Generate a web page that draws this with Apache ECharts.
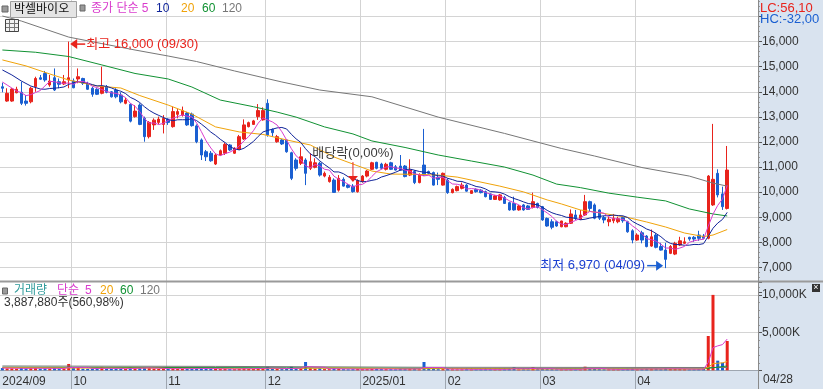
<!DOCTYPE html>
<html><head><meta charset="utf-8">
<script src="https://cdn.jsdelivr.net/npm/echarts/dist/echarts.min.js"></script>
<style>html,body{margin:0;padding:0;background:#fff;overflow:hidden}#c{width:823px;height:389px}</style>
</head><body><div id="c"></div>
<script>
// ---- trading days (categories) ----
const sepDays=[5,6,9,10,11,12,13,19,20,23,24,25,26,27,30];
const octDays=[2,4,7,8,10,11,14,15,16,17,18,21,22,23,24,25,28,29,30,31];
const novDays=[1,4,5,6,7,8,11,12,13,14,15,18,19,20,21,22,25,26,27,28,29];
const decDays=[2,3,4,5,6,9,10,11,12,13,16,17,18,19,20,23,24,26,27,30];
const janDays=[2,3,6,7,8,9,10,13,14,15,16,17,20,21,22,23,24,31];
const febDays=[3,4,5,6,7,10,11,12,13,14,17,18,19,20,21,24,25,26,27,28];
const marDays=[4,5,6,7,10,11,12,13,14,17,18,19,20,21,24,25,26,27,28,31];
const aprDays=[1,2,3,4,7,8,9,10,11,14,15,16,17,18,21,22,23,24,25,28];
const monthList=[['2024','09',sepDays,'2024/09'],['2024','10',octDays,'10'],['2024','11',novDays,'11'],['2024','12',decDays,'12'],['2025','01',janDays,'2025/01'],['2025','02',febDays,'02'],['2025','03',marDays,'03'],['2025','04',aprDays,'04']];
const emptySlots=6;

// ---- prices ----
const open=[14200,13630,13630,13960,13980,13630,13600,14200,14560,14730,14270,14560,14400,14310,14470,14430,14510,14530,14340,14140,14100,13940,14200,14000,14070,13870,13540,13500,13010,13470,12940,12210,12680,12780,12700,12910,12610,13100,13070,13150,
13110,12640,12080,11610,11550,11120,11480,11550,11880,11550,11700,12120,12610,12700,13010,12880,13540,12500,12010,12080,12080,11570,11280,11150,11280,10950,10990,11150,10640,10420,10480,10080,10510,10280,10240,10020,10420,10640,10910,11190,
11120,10910,11170,11010,11040,11040,10680,10820,10380,11080,10820,10780,10590,10280,10480,9980,10060,10150,10280,9950,10110,10080,10020,9930,9710,9690,9790,9580,9550,9290,9490,9450,9390,9550,9420,8950,8820,8820,8620,8620,
8760,9090,8920,9090,9620,9490,9290,8990,8820,8860,8820,8990,8820,8460,8090,8380,8250,7850,8290,7830,7690,7560,7530,7890,7960,8200,8200,8290,8250,8160,9490,10750,9930,9350];
const close=[14140,13940,14110,14100,13540,13540,14140,14530,14500,14470,14430,14070,14300,14400,14560,14160,14600,14340,14100,13900,13900,14200,13980,13800,13800,13600,13670,12830,13230,12700,12210,12780,12870,12910,12940,12780,13210,13210,13250,12680,
12650,12010,11480,11410,11250,11480,11650,11900,11680,11750,12210,12680,12770,12840,13250,13250,12280,12370,12210,11920,11610,10550,10950,11410,10750,11210,11170,10680,10750,10590,9990,10550,10240,10190,10020,10460,10640,10840,11170,10950,
10950,11110,10910,10880,10880,10620,10880,10380,10680,10680,10750,10280,10510,10750,9980,10110,10220,10280,10040,10060,10020,9980,9820,9710,9850,9890,9550,9290,9290,9450,9290,9310,9620,9390,8890,8650,8600,8650,8850,8760,
9130,8960,9090,9620,9350,8960,8960,8890,8920,8960,8940,8860,8420,8090,8290,8090,7830,8220,7800,7690,7320,7830,7960,8060,8020,8130,8130,8160,8160,10640,10510,9890,9420,10880];
const low=[13980,13600,13600,13940,13470,13450,13540,14000,14470,14400,14200,14030,14140,14270,14140,14140,14340,14270,14070,13800,13870,13900,13940,13770,13740,13540,13500,12780,12970,12670,12010,12140,12480,12700,12340,12680,12570,12940,13010,12640,
12610,11950,11280,11240,11210,11080,11450,11480,11640,11520,11680,12080,12580,12680,12880,12850,12210,12210,11970,11880,11570,10480,10860,11080,10280,10880,10950,10620,10590,10380,9980,10020,10220,10150,9980,9980,10380,10590,10880,10910,
10910,10860,10880,10860,10860,10590,10640,10320,10350,10640,10710,10260,10280,10260,9930,9950,10030,10110,10020,9930,9980,9950,9790,9690,9690,9660,9530,9260,9260,9260,9260,9290,9350,9350,8860,8620,8520,8620,8600,8600,
8730,8890,8890,9050,9220,8920,8890,8760,8640,8760,8760,8780,8380,7960,8060,7960,7800,7820,7760,7670,6970,7530,7490,7850,7930,8060,8020,8060,8120,8120,9450,9790,9290,9310];
const high=[14360,14140,14140,14200,14400,13870,14200,14600,14670,14830,14670,14930,14530,14670,16000,14530,14930,14560,14400,14200,14140,15000,14270,14030,14140,13980,13760,13540,13470,13540,13010,12830,12940,13010,13070,12940,13410,13310,13410,13200,
13170,12700,12140,11680,11640,11550,11700,11970,11920,11790,12280,12900,12810,12880,13510,13380,13700,12540,12280,12120,12100,11610,11350,11790,11350,11550,11350,11210,10820,10680,10550,10680,10590,10320,10320,10510,10680,10880,11210,11210,
11170,11170,11210,11080,11480,11080,11310,10880,10750,12520,10860,10820,10780,10780,10550,10150,10260,10380,10320,10080,10150,10120,10060,9950,9890,9930,9850,9620,9820,9490,9530,9490,9980,9580,9450,8990,8920,8860,8860,8800,
9310,9290,9290,9890,9660,9550,9310,9050,9020,9130,9020,9050,8860,8520,8360,8460,8290,8510,8360,7980,7980,7890,8020,8220,8200,8220,8250,8460,8330,10680,12720,10910,10220,11840];

const ma5Head=[14390,14270,14150,14030];
const ma10HeadIdx=[0,2,4,6,8];
const ma10HeadVal=[14870,14670,14430,14230,14110];
const ma20Idx=[0,5,10,14,20,25,29,35,40,45,50,55,60,65,70,74,78,82,87,92,96,100,105,110,115,118,122,127,132,136,140,144,148,150,153];
const ma20Val=[15270,15030,14710,14470,14230,14150,13850,13470,13110,12600,12400,12300,12080,11880,11400,11120,10840,10720,10710,10680,10600,10440,10240,10010,9690,9530,9290,9150,8990,8810,8610,8370,8230,8290,8510];
const ma60Idx=[0,7,14,21,28,35,40,46,53,58,62,68,74,78,85,92,99,106,112,117,122,128,134,140,145,150,153];
const ma60Val=[15665,15575,15405,15070,14730,14510,14190,13670,13405,13190,12990,12600,12320,12040,11780,11480,11240,11000,10680,10320,10180,9960,9800,9650,9330,9130,9050];
const ma120Idx=[0,4,14,21,28,35,41,49,59,67,78,92,106,118,125,135,145,150,153];
const ma120Val=[17020,16820,16180,15920,15665,15425,15205,14830,14390,14070,13800,12990,12340,11740,11440,10980,10640,10360,10240];

// ---- volume ----
const volume=[300000,250000,260000,220000,300000,250000,280000,300000,220000,260000,240000,300000,220000,200000,840000,300000,350000,220000,200000,220000,200000,450000,220000,200000,200000,220000,180000,400000,250000,300000,380000,300000,200000,180000,250000,180000,260000,200000,200000,230000,
200000,250000,300000,200000,180000,200000,160000,200000,160000,150000,220000,300000,200000,180000,300000,250000,480000,200000,180000,160000,200000,480000,250000,300000,1100000,260000,200000,250000,160000,150000,250000,200000,150000,130000,150000,180000,150000,160000,200000,180000,
160000,150000,150000,130000,200000,180000,200000,180000,150000,1100000,200000,180000,150000,160000,200000,130000,120000,130000,150000,120000,120000,130000,140000,130000,110000,120000,130000,200000,440000,120000,130000,120000,440000,150000,200000,160000,150000,120000,130000,120000,
140000,120000,120000,480000,200000,180000,150000,130000,130000,120000,120000,120000,180000,200000,150000,160000,180000,200000,200000,150000,250000,180000,200000,180000,150000,130000,130000,160000,200000,4550000,10000000,1280000,1010000,3887880];
const volMa5Head=[300000,290000,280000,270000];
const volMa20Idx=[0,10,19];
const volMa20Val=[350000,320000,290000];
const volMa60Idx=[0,30,60,100,148,153];
const volMa60Val=[400000,380000,330000,230000,190000,570000];
const volMa120Idx=[0,45,90,153];
const volMa120Val=[570000,520000,400000,370000];

// ---- build ----
const categories=[];const monthStart=[];const monthLabel={};
monthList.forEach(([y,m,days,lab])=>{monthStart.push(categories.length);monthLabel[categories.length]=lab;days.forEach(d=>categories.push(y+'/'+m+'/'+String(d).padStart(2,'0')));});
for(let k=0;k<emptySlots;k++)categories.push('');
const N=categories.length, n=close.length;
const isMonth=(i)=>i>0&&monthStart.indexOf(i)>=0;
const isLabel=(i)=>monthStart.indexOf(i)>=0;
function sparse(idx,val){const a=new Array(n).fill(null);idx.forEach((k,j)=>a[k]=val[j]);return a;}
function mavg(arr,w){return arr.map((v,i)=>i<w-1?null:arr.slice(i-w+1,i+1).reduce((s,x)=>s+x,0)/w);}
const ma5=mavg(close,5);ma5Head.forEach((v,i)=>ma5[i]=v);
const ma10=mavg(close,10);ma10HeadIdx.forEach((k,j)=>ma10[k]=ma10HeadVal[j]);
const ma20=sparse(ma20Idx,ma20Val),ma60=sparse(ma60Idx,ma60Val),ma120=sparse(ma120Idx,ma120Val);
const vma5=mavg(volume,5);volMa5Head.forEach((v,i)=>vma5[i]=v);
const vma20=mavg(volume,20);volMa20Idx.forEach((k,j)=>vma20[k]=volMa20Val[j]);
const vma60=sparse(volMa60Idx,volMa60Val),vma120=sparse(volMa120Idx,volMa120Val);
const candles=close.map((c,i)=>[open[i],c,low[i],high[i]]);
const RED='#e8231c',BLUE='#1a5fd1';
const C5='#d93ccd',C10='#10249a',C20='#f0a30a',C60='#119233',C120='#777777',CVOL='#2f9b9b';
const FONT="'Liberation Sans','Noto Sans CJK KR',sans-serif";
const fmt=(v)=>String(Math.round(v)).replace(/\B(?=(\d{3})+(?!\d))/g,',');
const volBars=volume.map((v,i)=>({value:v,itemStyle:{color:close[i]>=open[i]?RED:BLUE}}));
function line(name,data,color,xi,yi,w){return {name,type:'line',data,xAxisIndex:xi,yAxisIndex:yi,showSymbol:false,symbol:'none',connectNulls:true,lineStyle:{color,width:w||1},itemStyle:{color},z:3,silent:true};}

const chart=echarts.init(document.getElementById('c'),null,{renderer:'canvas'});
const splitV={show:true,interval:(i)=>isMonth(i),lineStyle:{color:'#d3d3d3',width:1}};
chart.setOption({
  animation:false,backgroundColor:'#ffffff',
  grid:[{left:0,right:65,top:-8.58,height:301.07,containLabel:false,outerBoundsMode:'none'},
        {left:0,right:65,top:282,height:88.3,containLabel:false,outerBoundsMode:'none'}],
  xAxis:[
    {type:'category',gridIndex:0,data:categories,boundaryGap:true,axisLine:{show:false},axisTick:{show:false},axisLabel:{show:false},splitLine:splitV},
    {type:'category',gridIndex:1,data:categories,boundaryGap:true,axisLine:{show:true,lineStyle:{color:'#9ea6b0'}},
     axisTick:{show:true,interval:(i)=>isMonth(i),length:19,lineStyle:{color:'#9ea6b0'}},
     axisLabel:{show:true,interval:(i)=>isLabel(i),formatter:(v,i)=>monthLabel[i]||'',align:'left',margin:5,color:'#333',fontSize:12,fontFamily:FONT},
     splitLine:splitV}
  ],
  yAxis:[
    {type:'value',gridIndex:0,position:'right',min:6000,max:18000,interval:1000,
     axisLine:{show:true,lineStyle:{color:'#8a8a8a'}},axisTick:{show:true,length:4,lineStyle:{color:'#555'}},
     minorTick:{show:true,splitNumber:5,length:2,lineStyle:{color:'#999'}},
     axisLabel:{formatter:(v)=>(v>=7000&&v<=16000)?fmt(v):'',color:'#333',fontSize:12,fontFamily:FONT,margin:4},
     splitLine:{show:true,showMinLine:false,lineStyle:{color:'#d4d4d4'}}},
    {type:'value',gridIndex:1,position:'right',min:0,max:11710000,interval:5000000,
     axisLine:{show:true,lineStyle:{color:'#8a8a8a'}},axisTick:{show:true,length:4,lineStyle:{color:'#555'}},
     minorTick:{show:true,splitNumber:5,length:2,lineStyle:{color:'#999'}},
     axisLabel:{formatter:(v)=>(v>0&&v<=10000000)?fmt(v/1000)+'K':'',color:'#333',fontSize:12,fontFamily:FONT,margin:4},
     splitLine:{show:true,showMinLine:false,showMaxLine:false,lineStyle:{color:'#d4d4d4'}}}
  ],
  series:[
    {name:'price',type:'candlestick',data:candles,xAxisIndex:0,yAxisIndex:0,barWidth:3,
     itemStyle:{color:RED,color0:BLUE,borderColor:RED,borderColor0:BLUE,borderWidth:1},z:2,silent:true},
    line('ma120',ma120,C120,0,0),line('ma60',ma60,C60,0,0),line('ma20',ma20,C20,0,0),line('ma10',ma10,C10,0,0),line('ma5',ma5,C5,0,0),
    {name:'vol',type:'bar',data:volBars,xAxisIndex:1,yAxisIndex:1,barWidth:3,z:2,silent:true},
    line('vma120',vma120,C120,1,1),line('vma60',vma60,C60,1,1),line('vma20',vma20,C20,1,1),line('vma5',vma5,C5,1,1)
  ]
});

// ---- graphics (annotations via the chart's own scales) ----
const P=(i,v)=>chart.convertToPixel({xAxisIndex:0,yAxisIndex:0},[i,v]);
const hiIdx=high.indexOf(Math.max(...high)), loIdx=low.indexOf(Math.min(...low)), exIdx=74;
const ph=P(hiIdx,high[hiIdx]), pl=P(loIdx,low[loIdx]), pe=P(exIdx,high[exIdx]);
function T(text,x,y,fill,align,size){return {type:'text',z:100,silent:true,style:{text,x,y,fill,font:(size||12)+'px '+FONT,textAlign:align||'left',textVerticalAlign:'middle',verticalAlign:'middle'}};}
const g=[];
// backgrounds
g.push({type:'rect',z:-1,silent:true,shape:{x:758,y:0,width:65,height:389},style:{fill:'#d9e3ef'}});
g.push({type:'rect',z:-1,silent:true,shape:{x:0,y:371,width:823,height:18},style:{fill:'#d9e3ef'}});
g.push({type:'line',z:50,silent:true,shape:{x1:0,y1:281.5,x2:823,y2:281.5},style:{stroke:'#9a9a9a',lineWidth:2}});
g.push({type:'line',z:50,silent:true,shape:{x1:758.5,y1:0,x2:758.5,y2:389},style:{stroke:'#8a8a8a',lineWidth:1}});
// top legend
g.push({type:'rect',z:100,silent:true,shape:{x:2,y:6,width:6,height:6},style:{fill:'#9a9a9a',stroke:'#666',lineWidth:1}});
g.push({type:'rect',z:100,silent:true,shape:{x:10.5,y:1.5,width:66,height:16},style:{fill:'#e4e4e4',stroke:'#a0a0a0',lineWidth:1}});
g.push(T('박셀바이오',14,10,'#111'));
g.push({type:'rect',z:100,silent:true,shape:{x:80,y:5,width:5,height:6},style:{fill:'#9a9a9a',stroke:'#666',lineWidth:1}});
g.push(T('종가 단순 5',91,9,C5));
g.push(T('10',156,9,C10));g.push(T('20',181,9,C20));g.push(T('60',202,9,C60));g.push(T('120',222,9,C120));
// grid icon
g.push({type:'rect',z:100,silent:true,shape:{x:5.5,y:19.5,width:13,height:12},style:{fill:'#f2f2f2',stroke:'#444',lineWidth:1}});
[23.5,27.5].forEach(y=>g.push({type:'line',z:101,silent:true,shape:{x1:6,y1:y,x2:18,y2:y},style:{stroke:'#777'}}));
[9.5,14.5].forEach(x=>g.push({type:'line',z:101,silent:true,shape:{x1:x,y1:20,x2:x,y2:31},style:{stroke:'#777'}}));
// LC/HC
g.push(T('LC:56,10',760,8,'#e8231c','left',13));
g.push(T('HC:-32,00',760,19,'#1a5fd1','left',13));
// high marker
const hy=ph[1]+2.5, hx=ph[0]+1.5;
g.push({type:'polygon',z:100,silent:true,shape:{points:[[hx,hy],[hx+7,hy-5],[hx+7,hy+5]]},style:{fill:RED}});
g.push({type:'line',z:100,silent:true,shape:{x1:hx+6,y1:hy,x2:hx+15,y2:hy},style:{stroke:RED,lineWidth:1.5}});
g.push(T('최고 '+fmt(high[hiIdx])+' (09/30)',hx+16,hy,RED,'left',13));
// low marker
const ly=pl[1]-2.5, lx=pl[0]-2.5;
g.push({type:'polygon',z:100,silent:true,shape:{points:[[lx,ly],[lx-7,ly-5],[lx-7,ly+5]]},style:{fill:BLUE}});
g.push({type:'line',z:100,silent:true,shape:{x1:lx-6,y1:ly,x2:lx-16,y2:ly},style:{stroke:BLUE,lineWidth:1.5}});
g.push(T('최저 '+fmt(low[loIdx])+' (04/09)',lx-18,ly,'#1a3fd1','right',13));
// ex-dividend marker
g.push({type:'line',z:100,silent:true,shape:{x1:pe[0],y1:pe[1]-22,x2:pe[0],y2:pe[1]-8},style:{stroke:RED,lineWidth:1}});
g.push({type:'polygon',z:100,silent:true,shape:{points:[[pe[0]-5,pe[1]-8],[pe[0]+5,pe[1]-8],[pe[0],pe[1]-2]]},style:{fill:RED}});
g.push(T('배당락(0,00%)',pe[0],pe[1]-31,'#3c3c3c','center',13));
// volume legend
g.push({type:'rect',z:100,silent:true,shape:{x:2.5,y:288,width:5,height:6},style:{fill:'#9a9a9a',stroke:'#666',lineWidth:1}});
g.push(T('거래량',14,291,CVOL));g.push(T('단순',57,291,C5));g.push(T('5',85,291,C5));
g.push(T('20',100,291,C20));g.push(T('60',120,291,C60));g.push(T('120',140,291,C120));
g.push(T(fmt(volume[n-1])+'주(560,98%)',4,303,'#333'));
// close box
g.push({type:'rect',z:100,silent:true,shape:{x:812,y:284,width:8,height:8},style:{fill:'#333'}});
g.push(T('×',816,288,'#fff','center',9));
// last date
g.push(T(categories[n-1].slice(5),763,380,'#333'));
chart.setOption({graphic:{elements:g}});
</script></body></html>
